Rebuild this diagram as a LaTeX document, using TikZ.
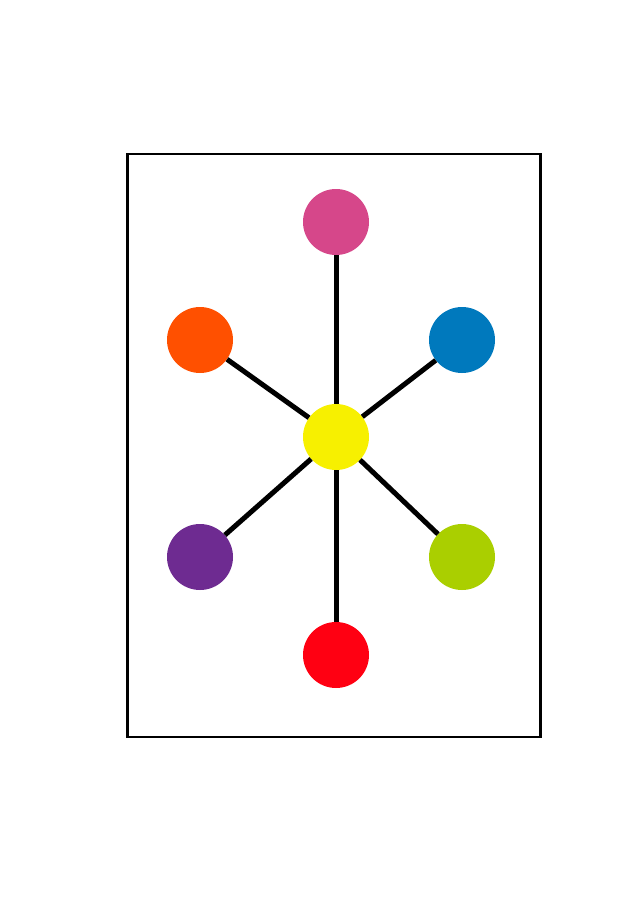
\documentclass[tikz,border=0pt]{standalone}
\definecolor{cpink}{HTML}{D6478A}
\definecolor{corange}{HTML}{FF5000}
\definecolor{cblue}{HTML}{0079BD}
\definecolor{cyellow}{HTML}{F7F000}
\definecolor{cpurple}{HTML}{6E2B91}
\definecolor{cgreen}{HTML}{AACF00}
\definecolor{cred}{HTML}{FF0012}
\tikzset{
  ball/.style={circle, minimum size=66pt, inner sep=0pt, draw=none},
  spoke/.style={line width=5pt, black},
  frame/.style={line width=2.6pt, black}
}
\begin{document}
\begin{tikzpicture}[x=1pt, y=-1pt]
\useasboundingbox (0,0) rectangle (636,900);
\fill[white] (0,0) rectangle (636,900);
\draw[frame] (127.5,154) rectangle (540.5,737);
\node[ball, fill=cyellow] (c) at (336,437) {};
\node[ball, fill=cpink] (t) at (336,222) {};
\node[ball, fill=corange] (tl) at (200,340) {};
\node[ball, fill=cblue] (tr) at (462,340) {};
\node[ball, fill=cpurple] (bl) at (200,557) {};
\node[ball, fill=cgreen] (br) at (462,557) {};
\node[ball, fill=cred] (b) at (336,655) {};
\draw[spoke] (c) -- (t);
\draw[spoke] (c) -- (tl);
\draw[spoke] (c) -- (tr);
\draw[spoke] (c) -- (bl);
\draw[spoke] (c) -- (br);
\draw[spoke] (c) -- (b);
\end{tikzpicture}
\end{document}
